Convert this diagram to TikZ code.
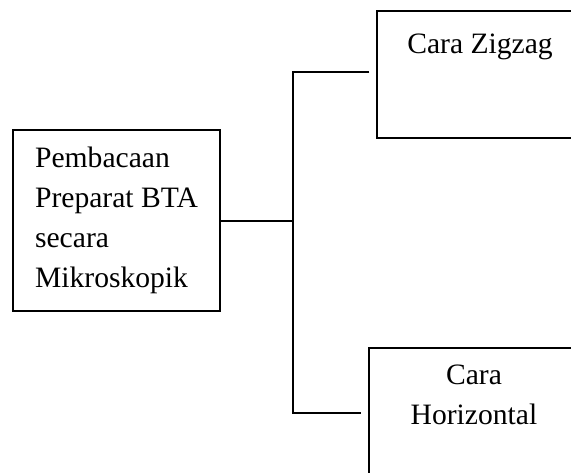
\documentclass[tikz,border=0pt]{standalone}
\usepackage{fontspec}
\setmainfont{Liberation Serif}
\usetikzlibrary{positioning}

\begin{document}
\begin{tikzpicture}[x=1pt,y=-1pt,
    box/.style={draw, line width=1.4pt, rectangle, inner sep=0pt},
    txt/.style={font=\fontsize{29.6}{40}\selectfont, inner sep=0pt},
    link/.style={line width=2pt}]
    \useasboundingbox (0,0) rectangle (571,472);
    \clip (0,0) rectangle (571,472);

    % main box
    \node[box, txt, align=left, minimum width=207pt, minimum height=181pt] (main) at (116.5,220.5)
        {Pembacaan\\Preparat BTA\\secara\\Mikroskopik};

    % the two methods (boxes run past the page edge)
    \node[box, minimum width=208pt, minimum height=127pt] (zigzag) at (481,74.5) {};
    \node[txt, anchor=base] (zigzagtxt) at (480,53) {Cara Zigzag};

    \node[box, minimum width=212pt, minimum height=130pt] (horiz) at (475,413) {};
    \node[txt, align=center, anchor=north] (horiztxt) at (474,365) {Cara\\Horizontal};

    \coordinate (fork) at (293,220.5);
    \coordinate[left=7pt of zigzag.west, yshift=2.5pt] (ztip);
    \coordinate[left=7pt of horiz.west] (htip);

    \draw[link] (main.east) -- (fork);
    \draw[link] (ztip) -- (ztip -| fork) -- (htip -| fork) -- (htip);
\end{tikzpicture}
\end{document}
